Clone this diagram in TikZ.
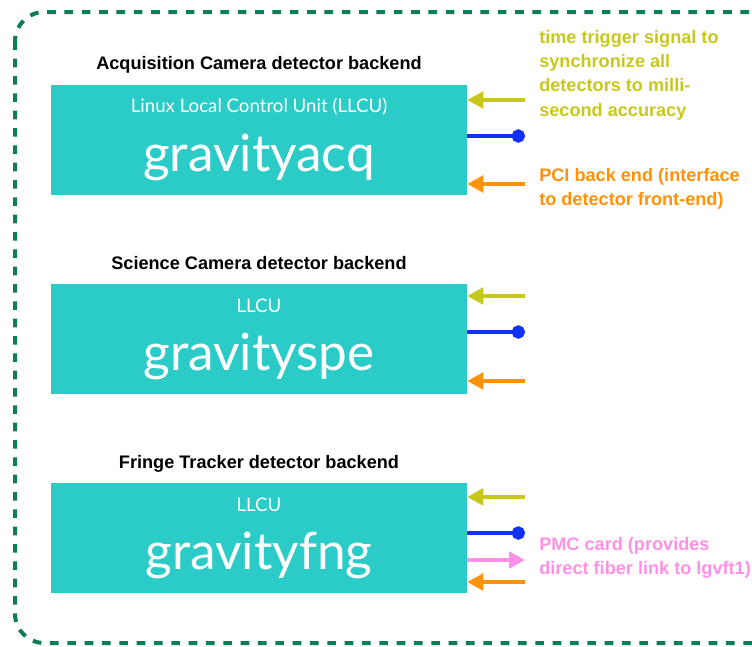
\documentclass[tikz,border=0pt]{standalone}
\usepackage{fontspec}
\setmainfont{Liberation Sans}
\newfontfamily\llcufont{Lato}
\usetikzlibrary{calc}
\usetikzlibrary{arrows.meta}
\definecolor{llcu}{HTML}{2BCBC8}
\definecolor{trig}{HTML}{C8C81C}
\definecolor{pci}{HTML}{FF9208}
\definecolor{lan}{HTML}{0F32F5}
\definecolor{pmc}{HTML}{FF90E6}
\definecolor{frame}{HTML}{0E7D57}

\begin{document}
\begin{tikzpicture}[x=0.75pt,y=-0.75pt,
    llcubox/.style={fill=llcu,minimum width=312pt,minimum height=82.5pt,inner sep=0pt},
    sub/.style={text=white,font=\llcufont\fontsize{14}{17}\selectfont},
    host/.style={text=white,font=\llcufont\fontsize{38.5}{44}\selectfont},
    title/.style={font=\bfseries\fontsize{13.6}{16}\selectfont},
    note/.style={anchor=north west,align=left,inner sep=0pt,font=\bfseries\fontsize{13.6}{18.2}\selectfont},
    sig/.style={line width=2.6pt,-{Triangle[length=12pt,width=12.5pt]}},
    net/.style={line width=2.6pt,lan,-{Circle[length=10pt]}}]
  \useasboundingbox (0,0) rectangle (752,646);
  \draw[frame,line width=3pt,dash pattern=on 6.5pt off 6.5pt,rounded corners=22pt] (15,12) rectangle (790,643);

  % acquisition camera
  \node[title] (acqtitle) at (259,65) {Acquisition Camera detector backend};
  \node[llcubox] (acq) at (259,140) {};
  \node[sub] (acqsub) at ($(acq.north)+(0,22)$) {Linux Local Control Unit (LLCU)};
  \node[host] (acqhost) at ($(acq.north)+(0,73)$) {gravityacq};

  % science camera
  \node[title] (spetitle) at (259,263) {Science Camera detector backend};
  \node[llcubox] (spe) at (259,339) {};
  \node[sub] (spesub) at ($(spe.north)+(0,22)$) {LLCU};
  \node[host] (spehost) at ($(spe.north)+(0,73)$) {gravityspe};

  % fringe tracker
  \node[title] (fngtitle) at (259,464) {Fringe Tracker detector backend};
  \node[llcubox] (fng) at (259,538) {};
  \node[sub] (fngsub) at ($(fng.north)+(0,22)$) {LLCU};
  \node[host] (fnghost) at ($(fng.north)+(0,73)$) {gravityfng};

  % side notes
  \node[note,trig] (trignote) at (539,30) {time trigger signal to\\synchronize all\\detectors to milli-\\second accuracy};
  \node[note,pci] (pcinote) at (539,168) {PCI back end (interface\\to detector front-end)};
  \node[note,pmc] (pmcnote) at (539,537) {PMC card (provides\\direct fiber link to lgvft1)};

  \coordinate (acqt) at (525,100);
  \coordinate (acql) at (525,136);
  \coordinate (acqp) at (525,184);
  \coordinate (spet) at (525,296);
  \coordinate (spel) at (525,332);
  \coordinate (spep) at (525,381);
  \coordinate (fngt) at (525,497);
  \coordinate (fngl) at (525,533);
  \coordinate (fngm) at (525,560);
  \coordinate (fngp) at (525,582);

  \draw[sig,trig] (acqt) -- (acq.east |- acqt);
  \draw[net] (acq.east |- acql) -- (acql);
  \draw[sig,pci] (acqp) -- (acq.east |- acqp);
  \draw[sig,trig] (spet) -- (spe.east |- spet);
  \draw[net] (spe.east |- spel) -- (spel);
  \draw[sig,pci] (spep) -- (spe.east |- spep);
  \draw[sig,trig] (fngt) -- (fng.east |- fngt);
  \draw[net] (fng.east |- fngl) -- (fngl);
  \draw[sig,pmc] (fng.east |- fngm) -- (fngm);
  \draw[sig,pci] (fngp) -- (fng.east |- fngp);
\end{tikzpicture}
\end{document}
